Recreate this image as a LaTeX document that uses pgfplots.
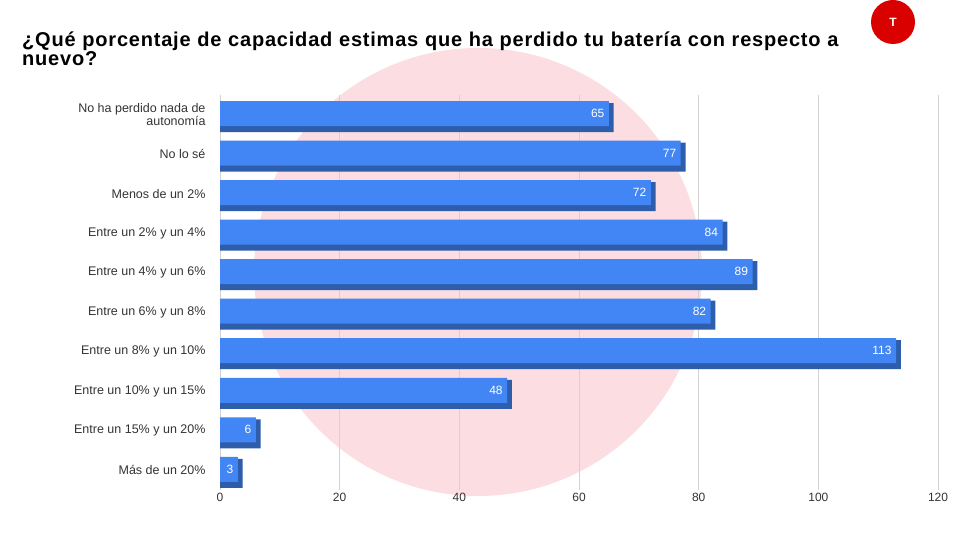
\documentclass[border=0pt]{standalone}
\usepackage{pgfplots}
\pgfplotsset{compat=1.18}
\usepackage{fontspec}
\setmainfont{Liberation Sans}
\definecolor{barblue}{HTML}{4285F4}
\definecolor{bardark}{HTML}{2E5DAB}
\definecolor{wm}{HTML}{FBDDE2}
\begin{document}
\begin{tikzpicture}[x=1pt,y=1pt]
\useasboundingbox (0,0) rectangle (960,540);
\fill[wm] (478,268) circle (224);
\fill[red!85!black] (893,518) circle (22);
\node[white,font=\bfseries\large] at (893,518) {T};
\node[anchor=north west,align=left,font=\bfseries\fontsize{20}{17}\selectfont,text width=870pt,inner sep=0] at (22,508) {\addfontfeatures{LetterSpace=4}¿Qué porcentaje de capacidad estimas que ha perdido tu batería con respecto a nuevo?};
\begin{axis}[
  at={(220pt,50pt)}, anchor=south west,
  scale only axis, width=718pt, height=395pt,
  xbar, xmin=0, xmax=120, ymin=-0.5, ymax=9.5, y dir=reverse,
  axis line style={draw=none}, axis x line*=bottom,
  xtick={0,20,...,120}, xmajorgrids, grid style={gray!35},
  major tick length=0pt,
  ytick={0,...,9},
  yticklabels={{No ha perdido nada de\\autonomía},No lo sé,Menos de un 2\%,Entre un 2\% y un 4\%,Entre un 4\% y un 6\%,Entre un 6\% y un 8\%,Entre un 8\% y un 10\%,Entre un 10\% y un 15\%,Entre un 15\% y un 20\%,Más de un 20\%},
  yticklabel style={align=right,font=\fontsize{12.5}{13}\selectfont,text=black!80,xshift=-11pt},
  xticklabel style={font=\fontsize{12}{13}\selectfont,text=black!80},
  /pgf/number format/assume math mode=true,
  bar width=29pt,
]
\addplot[fill=bardark,draw=none,bar shift=-3pt] coordinates {(65.8,0)(77.8,1)(72.8,2)(84.8,3)(89.8,4)(82.8,5)(113.8,6)(48.8,7)(6.8,8)(3.8,9)};
\end{axis}
\begin{axis}[
  at={(220pt,50pt)}, anchor=south west,
  scale only axis, width=718pt, height=395pt,
  xbar, xmin=0, xmax=120, ymin=-0.5, ymax=9.5, y dir=reverse,
  hide axis, bar width=25pt,
  /pgf/number format/assume math mode=true,
  nodes near coords, nodes near coords align={anchor=east},
  every node near coord/.append style={white,font=\fontsize{12}{13}\selectfont,xshift=-1pt},
]
\addplot[fill=barblue,draw=none,bar shift=1pt] coordinates {(65,0)(77,1)(72,2)(84,3)(89,4)(82,5)(113,6)(48,7)(6,8)(3,9)};
\end{axis}
\end{tikzpicture}
\end{document}
